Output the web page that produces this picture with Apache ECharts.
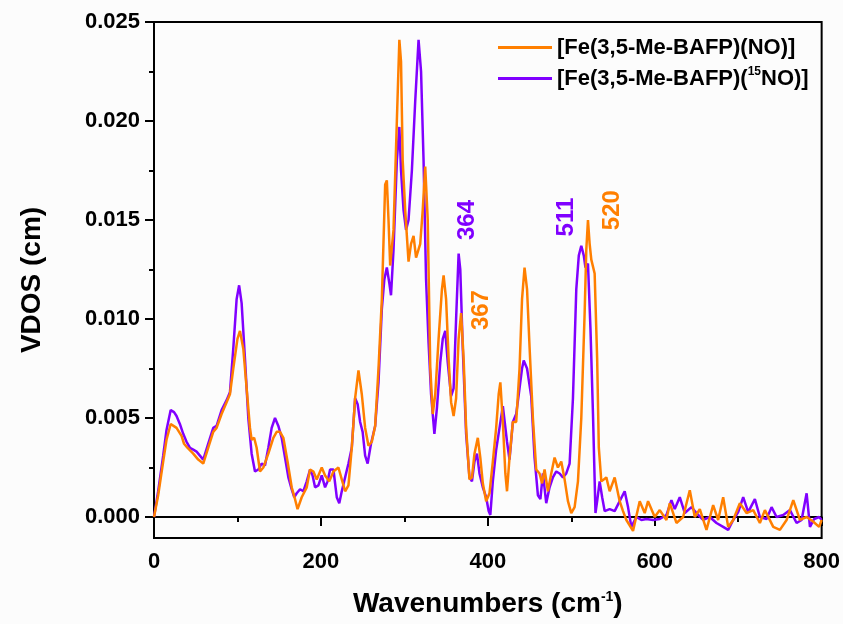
<!DOCTYPE html>
<html>
<head>
<meta charset="utf-8">
<script src="https://cdn.jsdelivr.net/npm/echarts@6/dist/echarts.min.js"></script>
<style>
html,body{margin:0;padding:0;background:#fcfcfc;}
#c{width:843px;height:624px;}
</style>
</head>
<body>
<div id="c"></div>
<script>
// Orange: [Fe(3,5-Me-BAFP)(NO)]
var orangeX = [0,5,11,15,20,27,33,36,40,47,53,59,65,71,75,81,87,91,95,100,103,107,111,115,117,120,123,127,131,137,143,147,151,155,160,165,169,172,177,183,187,191,195,201,205,210,215,221,225,229,233,237,241,245,249,253,257,261,265,269,273,277,279,281,283,287,291,294,296,298,301,305,308,311,314,316,319,322,325,328,331,334,337,341,345,347,350,353,356,359,362,365,368,371,374,378,381,384,388,391,394,398,402,406,410,413,415,418,421,423,426,430,434,438,441,444,447,450,454,458,462,465,468,472,476,480,484,488,492,496,500,504,508,512,516,518,520,522,524,528,531,533,536,542,546,552,558,562,566,574,582,588,592,600,606,614,618,626,634,642,648,654,662,670,676,682,688,694,702,710,718,726,732,742,750,758,766,774,782,789,797,800];
var orangeY = [0,0.0011,0.0028,0.0039,0.0047,0.0045,0.0041,0.0037,0.0035,0.0032,0.0029,0.0027,0.0035,0.0043,0.0045,0.0052,0.0058,0.0062,0.0075,0.0090,0.0094,0.0085,0.0065,0.0045,0.0039,0.0040,0.0035,0.0023,0.0025,0.0032,0.0040,0.0043,0.0043,0.0040,0.0028,0.0015,0.0009,0.0004,0.0010,0.0015,0.0024,0.0023,0.0019,0.0025,0.0021,0.0018,0.0023,0.0025,0.0019,0.0013,0.0016,0.0035,0.0060,0.0074,0.0062,0.0045,0.0036,0.0038,0.0046,0.0075,0.0110,0.0168,0.0170,0.0150,0.0127,0.0145,0.0200,0.0241,0.0230,0.0180,0.0155,0.0129,0.0138,0.0142,0.0131,0.0130,0.0138,0.0155,0.0177,0.0150,0.0076,0.0052,0.0062,0.0090,0.0115,0.0122,0.0110,0.0080,0.0058,0.0051,0.0060,0.0090,0.0103,0.0080,0.0045,0.0019,0.0020,0.0032,0.0040,0.0030,0.0017,0.0008,0.0012,0.0028,0.0045,0.0062,0.0068,0.0048,0.0022,0.0013,0.0030,0.0048,0.0048,0.0075,0.0110,0.0126,0.0115,0.0086,0.0050,0.0024,0.0022,0.0017,0.0024,0.0013,0.0022,0.0030,0.0025,0.0028,0.0019,0.0008,0.0002,0.0005,0.0018,0.0050,0.0103,0.0135,0.0150,0.0138,0.0130,0.0123,0.0080,0.0035,0.0018,0.0020,0.0013,0.0020,0.0008,0.0003,-0.00015,-0.0007,0.0008,0.0002,0.0008,0.0000,0.00035,-0.00015,0.0007,-0.0003,0.0000,0.00135,0.0000,0.0004,-0.00065,0.0006,-0.00015,0.0010,-0.0005,-0.00015,0.0007,0.0002,0.00035,-0.0003,0.00035,-0.0005,-0.00065,-0.00015,0.00085,-0.00015,0.0000,-0.0002,-0.0005,-0.00015];
// Purple: [Fe(3,5-Me-BAFP)(15NO)]
var purpleX = [0,5,11,15,20,24,27,31,35,39,43,47,51,55,59,65,71,75,81,87,91,95,99,102,105,109,113,117,121,125,129,133,137,141,145,149,153,157,161,165,168,171,175,179,183,187,190,193,197,201,205,208,211,215,219,222,225,229,233,237,241,244,247,250,253,256,260,265,269,273,276,279,282,284,287,291,294,296,299,302,305,309,313,317,320,323,326,329,332,336,339,343,346,349,352,356,359,362,365,367,370,374,378,381,384,387,390,394,398,401,403,406,410,414,418,420,423,426,430,434,438,441,443,447,452,456,460,463,466,470,474,478,482,486,490,494,498,502,506,509,512,515,517,520,523,526,529,531,534,537,540,546,552,558,564,568,572,578,584,590,598,606,614,620,624,630,636,644,650,658,666,674,682,688,694,700,706,712,720,726,734,740,746,754,762,770,776,782,786,791,797,800];
var purpleY = [0,0.0013,0.0031,0.0044,0.0054,0.0053,0.0051,0.0047,0.0042,0.0038,0.0035,0.0034,0.0033,0.0031,0.0029,0.0037,0.0045,0.0046,0.0054,0.0059,0.0063,0.0085,0.0110,0.0117,0.0108,0.0080,0.0050,0.0032,0.0023,0.0024,0.0027,0.0026,0.0035,0.0045,0.0050,0.0046,0.0040,0.0030,0.0020,0.0014,0.0010,0.0012,0.0014,0.0013,0.0018,0.0024,0.0021,0.0015,0.0016,0.0021,0.0015,0.0018,0.0024,0.0024,0.0010,0.0007,0.0013,0.0020,0.0027,0.0035,0.0060,0.0057,0.0048,0.0043,0.0031,0.0027,0.0037,0.0046,0.0068,0.0105,0.0120,0.0126,0.0118,0.0112,0.0135,0.0180,0.0197,0.0175,0.0155,0.0145,0.0150,0.0175,0.0210,0.0241,0.0225,0.0180,0.0120,0.0088,0.0062,0.0042,0.0055,0.0078,0.0090,0.0094,0.0078,0.0061,0.0065,0.0100,0.0133,0.0125,0.0085,0.0042,0.0020,0.0018,0.0028,0.0032,0.0022,0.0015,0.0010,0.0003,0.0001,0.0018,0.0034,0.0045,0.0056,0.0055,0.0038,0.0029,0.0048,0.0052,0.0065,0.0075,0.0079,0.0075,0.0061,0.0030,0.0011,0.0009,0.0022,0.0007,0.0015,0.0020,0.0023,0.0022,0.0020,0.0022,0.0027,0.0060,0.0115,0.0132,0.0137,0.0132,0.0126,0.0128,0.0095,0.0052,0.0002,0.0008,0.0018,0.0010,0.0003,0.0004,0.0003,0.0008,0.0013,0.0005,-0.0005,0.0000,-0.00015,-0.0001,-0.00015,-0.0001,0.0001,0.00085,0.0004,0.0010,0.0002,0.0005,0.0002,-0.00015,0.0000,-0.0003,-0.0005,-0.00065,-0.00015,0.00025,0.0010,0.00025,0.0009,0.0000,-0.0001,0.0005,0.0000,0.0001,0.00035,-0.0003,-0.00015,0.0012,-0.0005,-0.0001,0.0000,-0.00015];

var seriesNames = ['[Fe(3,5-Me-BAFP)(NO)]', '[Fe(3,5-Me-BAFP)(15NO)]'];
var yMin = -0.00106, yMax = 0.025;
var yTickMin = 0, yTickInterval = 0.005;
// peak annotations: [x, y, text]
var purpleNotes = [[376, 0.0150, '364'], [494.5, 0.01515, '511']];
var orangeNotes = [[392, 0.01045, '367'], [549.5, 0.0155, '520']];

var ORANGE = '#ff7f00', PURPLE = '#8000ff';
function zip(xs, ys){ return xs.map(function(x,i){ return [x, ys[i]]; }); }
var font = 'Liberation Sans, Arial, sans-serif';
function notes(arr, color){
  return {
    symbol: 'circle', symbolSize: 0, silent: true,
    label: { show: true, position: 'inside', rotate: 90, color: color, fontSize: 24, fontWeight: 'bold',
      fontFamily: font, formatter: function(p){ return p.name; } },
    data: arr.map(function(n){ return { name: n[2], coord: [n[0], n[1]] }; })
  };
}

// grid 0: plot; grid 1: spans exactly 0..0.025 on the same pixel scale, carries the y ticks/labels
var gridLeft = 154, gridRight = 21, gridTop = 22, gridBottom = 86;
var plotH = 624 - gridTop - gridBottom;
var zeroPx = gridTop + plotH * (yMax - 0) / (yMax - yMin);
var tickGridBottom = 624 - zeroPx;

var chart = echarts.init(document.getElementById('c'), null, {renderer: 'canvas'});
chart.setOption({
  backgroundColor: '#fcfcfc',
  animation: false,
  grid: [
    { left: gridLeft, right: gridRight, top: gridTop, bottom: gridBottom, show: true, borderColor: '#000', borderWidth: 2, backgroundColor: 'transparent' },
    { left: gridLeft, right: gridRight, top: gridTop, bottom: tickGridBottom, show: false }
  ],
  legend: {
    orient: 'vertical', left: 493, top: 30, itemWidth: 54, itemHeight: 3, itemGap: 6, icon: 'rect',
    data: seriesNames,
    textStyle: { fontSize: 22, fontWeight: 'bold', color: '#000', fontFamily: font, lineHeight: 25,
      rich: { sup: { fontSize: 12, fontWeight: 'bold', fontFamily: font, color: '#000', verticalAlign: 'top', lineHeight: 12, padding: [0,0,10,0] },
              n: { fontSize: 22, fontWeight: 'bold', fontFamily: font, color: '#000', lineHeight: 25 } } },
    formatter: function(name){
      if (name.indexOf('(15NO)') >= 0) return '{n|[Fe(3,5-Me-BAFP)(}{sup|15}{n|NO)]}';
      return name;
    }
  },
  xAxis: [{
    gridIndex: 0, type: 'value', min: 0, max: 800, interval: 200,
    name: 'Wavenumbers (cm{sup|-1})', nameLocation: 'middle', nameGap: 52,
    nameTextStyle: { fontSize: 28, fontWeight: 'bold', color: '#000', fontFamily: font,
      rich: { sup: { fontSize: 14, fontWeight: 'bold', color: '#000', fontFamily: font, verticalAlign: 'top', padding: [0,0,12,0] } } },
    axisLine: { show: true, lineStyle: { color: '#000', width: 2 } },
    axisTick: { show: true, inside: false, length: 9, lineStyle: { color: '#000', width: 2 } },
    minorTick: { show: true, splitNumber: 2, length: 5, lineStyle: { color: '#000', width: 2 } },
    axisLabel: { fontSize: 22, fontWeight: 'bold', color: '#000', fontFamily: font, margin: 13 },
    splitLine: { show: false }
  }, {
    gridIndex: 1, type: 'value', min: 0, max: 800, show: false
  }],
  yAxis: [{
    gridIndex: 0, type: 'value', min: yMin, max: yMax,
    name: 'VDOS (cm)', nameLocation: 'middle', nameGap: 108, nameRotate: 90,
    nameTextStyle: { fontSize: 28, fontWeight: 'bold', color: '#000', fontFamily: font },
    axisLine: { show: true, lineStyle: { color: '#000', width: 2 } },
    axisTick: { show: false }, axisLabel: { show: false },
    splitLine: { show: false }
  }, {
    gridIndex: 1, type: 'value', min: yTickMin, max: yMax, interval: yTickInterval,
    axisLine: { show: false },
    axisTick: { show: true, inside: false, length: 9, lineStyle: { color: '#000', width: 2 } },
    minorTick: { show: true, splitNumber: 2, length: 5, lineStyle: { color: '#000', width: 2 } },
    axisLabel: { fontSize: 22, fontWeight: 'bold', color: '#000', fontFamily: font, margin: 14,
      formatter: function(v){ return v.toFixed(3); } },
    splitLine: { show: false }
  }],
  series: [{
    name: seriesNames[1], type: 'line', xAxisIndex: 0, yAxisIndex: 0, data: zip(purpleX, purpleY), symbol: 'none',
    lineStyle: { color: PURPLE, width: 2.5 }, itemStyle: { color: PURPLE }, z: 2,
    markPoint: notes(purpleNotes, PURPLE)
  }, {
    name: seriesNames[0], type: 'line', xAxisIndex: 0, yAxisIndex: 0, data: zip(orangeX, orangeY), symbol: 'none',
    lineStyle: { color: ORANGE, width: 2.5 }, itemStyle: { color: ORANGE }, z: 3,
    markPoint: notes(orangeNotes, ORANGE)
  }]
});
</script>
</body>
</html>
